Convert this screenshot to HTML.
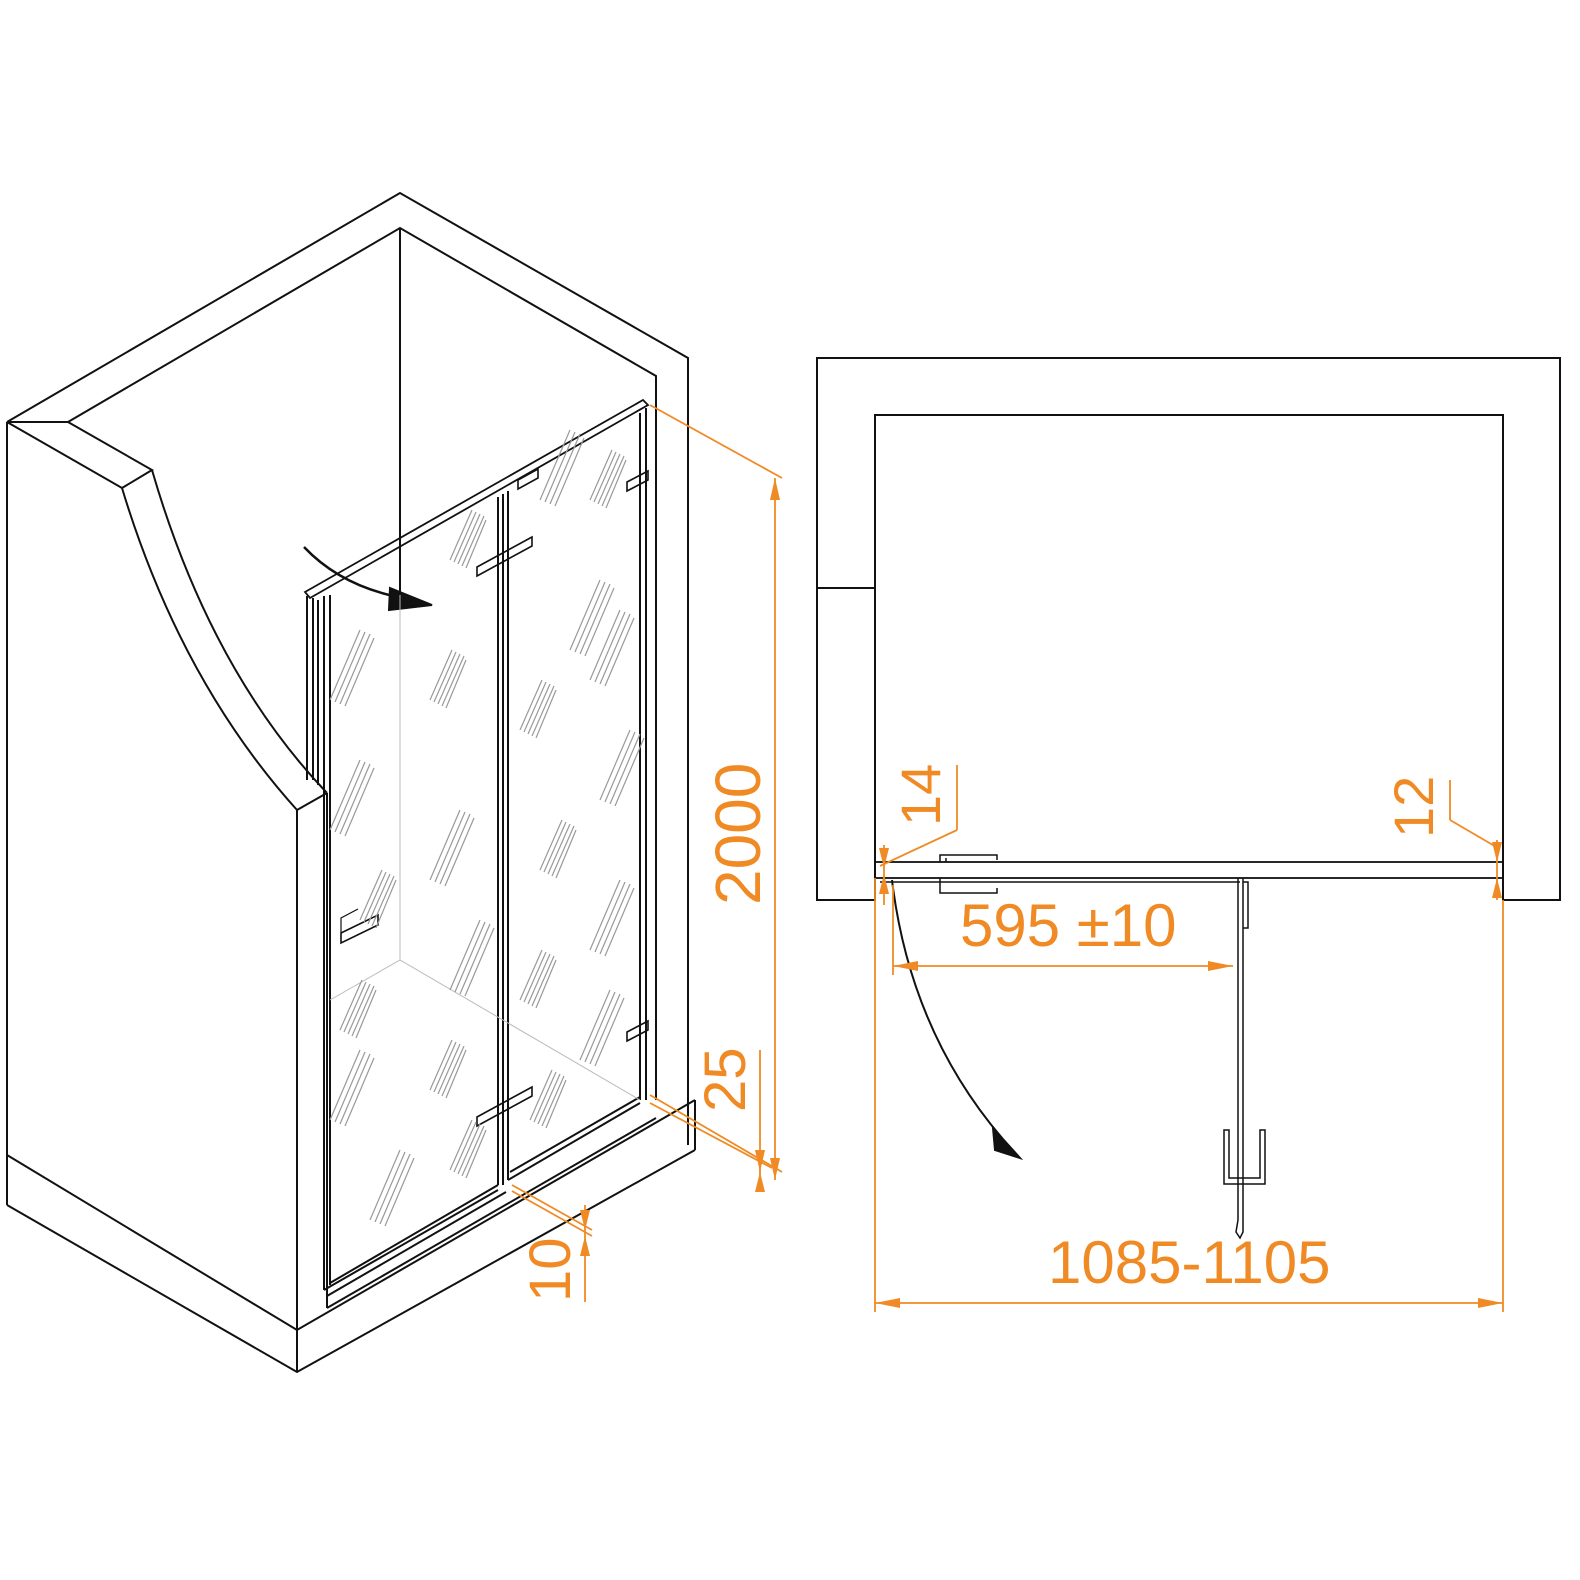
<!DOCTYPE html>
<html><head><style>html,body{margin:0;padding:0;background:#fff}svg{display:block}</style></head><body>
<svg width="1580" height="1580" viewBox="0 0 1580 1580" xmlns="http://www.w3.org/2000/svg">
<defs>
<g id="h" stroke="#999" stroke-width="1.2" fill="none">
<line x1="0" y1="40" x2="22" y2="-10"/><line x1="4" y1="42" x2="26" y2="-8"/><line x1="8" y1="44" x2="30" y2="-6"/><line x1="12" y1="46" x2="34" y2="-4"/><line x1="16" y1="48" x2="36" y2="0"/>
</g>
<g id="h2" stroke="#999" stroke-width="1.2" fill="none">
<line x1="0" y1="60" x2="30" y2="-10"/><line x1="5" y1="62" x2="35" y2="-8"/><line x1="10" y1="64" x2="40" y2="-6"/><line x1="15" y1="66" x2="44" y2="-2"/>
</g>
</defs>
<g fill="none" stroke="#111" stroke-width="2">
<!-- left iso walls -->
<path d="M7,422 L400,193 L688,358 L688,1145"/>
<path d="M68,422 L400,228 L656,376 L656,1100"/>
<line x1="400" y1="228" x2="400" y2="595"/>
<path d="M7,422 L68,422"/>
<path d="M7,422 L122,488 L152,470 L68,422"/>
<path d="M122,488 Q180,680 297,810"/>
<path d="M152,470 Q210,670 327,793"/>
<path d="M297,810 L327,793"/>
<line x1="7" y1="422" x2="7" y2="1205"/>
<line x1="297" y1="810" x2="297" y2="1372"/>
<path d="M7,1155 L297,1330 L695,1100"/>
<path d="M7,1205 L297,1372 L695,1150"/>
<line x1="695" y1="1100" x2="695" y2="1150"/>
<line x1="327" y1="793" x2="327" y2="1308"/>
<path d="M327,1308 L656,1118"/>
<!-- door frame -->
<path d="M305,592 L643,400 L648,405 L310,598 Z" stroke-width="1.8"/>
<line x1="307" y1="596" x2="307" y2="780"/>
<line x1="313" y1="598" x2="313" y2="780"/>
<line x1="318" y1="600" x2="318" y2="785"/>
<line x1="324" y1="596" x2="324" y2="1290"/>
<line x1="330" y1="595" x2="330" y2="1285"/>
<line x1="498" y1="497" x2="498" y2="1185"/>
<line x1="503" y1="494" x2="503" y2="1185"/>
<line x1="508" y1="491" x2="508" y2="1180"/>
<line x1="640" y1="413" x2="640" y2="1100"/>
<line x1="646" y1="408" x2="646" y2="1100"/>
<path d="M324,1290 L498,1190 M330,1283 L498,1185 M327,1296 L506,1192"/>
<path d="M508,1180 L640,1103 M510,1172 L640,1097"/>
<!-- hinges/handles -->
<path d="M477,567 L532,537 L532,546 L477,576 Z" stroke-width="1.6"/>
<path d="M477,1117 L532,1087 L532,1096 L477,1126 Z" stroke-width="1.6"/>
<path d="M518,480 L538,469 L538,478 L518,489 Z" stroke-width="1.6"/>
<path d="M627,482 L648,471 L648,480 L627,491 Z" stroke-width="1.6"/>
<path d="M627,1032 L648,1021 L648,1030 L627,1041 Z" stroke-width="1.6"/>
<path d="M341,933 L378,915 L378,925 L341,943 Z" stroke-width="1.6"/>
<path d="M341,933 L341,918 L358,909" stroke-width="1.2"/>
<!-- swing arrow -->
<path d="M304,547 Q340,585 398,597" stroke-width="2.5"/>
<path d="M390,588 L432,605 L389,610 Z" fill="#111"/>
<!-- plan -->
<path d="M817,358 L1560,358 L1560,900 L1503,900 L1503,415 L875,415 L875,588 L817,588 Z"/>
<path d="M817,588 L817,900 L875,900 L875,588"/>
<rect x="875" y="862" width="628" height="16" stroke-width="1.8"/>
<line x1="880" y1="882" x2="1240" y2="882" stroke-width="1.5"/>
<path d="M940,862 L940,855 L997,855 L997,860 M940,878 L940,893 L997,893 L997,888 M946,862 L946,858" stroke-width="1.5"/>
<line x1="1238" y1="878" x2="1238" y2="1220" stroke-width="1.5"/>
<line x1="1243" y1="878" x2="1243" y2="1220" stroke-width="1.5"/>
<path d="M1243,882 L1248,882 L1248,928 L1243,928" stroke-width="1.5"/>
<path d="M1224,1130 L1224,1184 L1265,1184 L1265,1130 L1260,1130 L1260,1178 L1229,1178 L1229,1130 Z" stroke-width="1.5"/>
<path d="M1238,1220 L1236,1232 L1240,1238 L1243,1232 L1243,1220" stroke-width="1.5"/>
<path d="M892,880 Q910,1030 1002,1138" stroke-width="2"/>
<path d="M993,1128 L1020,1158 L995,1150 Z" fill="#111"/>
</g>
<!-- faint back lines -->
<g stroke="#bbb" stroke-width="1" fill="none">
<line x1="400" y1="595" x2="400" y2="960"/>
<path d="M330,1000 L400,960 L640,1100"/>
</g>
<!-- hatching -->
<use href="#h" x="450" y="520"/><use href="#h2" x="330" y="640"/><use href="#h" x="430" y="660"/><use href="#h2" x="330" y="770"/>
<use href="#h2" x="430" y="820"/><use href="#h" x="360" y="880"/><use href="#h2" x="450" y="930"/><use href="#h2" x="330" y="1060"/>
<use href="#h" x="430" y="1050"/><use href="#h2" x="370" y="1160"/><use href="#h" x="450" y="1130"/><use href="#h" x="340" y="990"/>
<use href="#h2" x="540" y="440"/><use href="#h" x="590" y="460"/><use href="#h2" x="570" y="590"/><use href="#h" x="520" y="690"/>
<use href="#h2" x="600" y="740"/><use href="#h" x="540" y="830"/><use href="#h2" x="590" y="890"/><use href="#h" x="520" y="960"/>
<use href="#h2" x="580" y="1000"/><use href="#h" x="530" y="1080"/><use href="#h2" x="590" y="620"/>
<!-- orange dims -->
<g stroke="#f08a24" stroke-width="1.8" fill="none">
<line x1="650" y1="405" x2="782" y2="478"/>
<line x1="650" y1="1095" x2="782" y2="1172"/>
<line x1="775" y1="478" x2="775" y2="1180"/>
<line x1="650" y1="1103" x2="772" y2="1168"/>
<line x1="760" y1="1050" x2="760" y2="1190"/>
<line x1="512" y1="1185" x2="592" y2="1230"/>
<line x1="512" y1="1191" x2="592" y2="1236"/>
<line x1="585" y1="1205" x2="585" y2="1302"/>
<line x1="880" y1="866" x2="957" y2="830"/><line x1="957" y1="830" x2="957" y2="765"/>
<line x1="1450" y1="780" x2="1450" y2="820"/><line x1="1450" y1="820" x2="1498" y2="848"/>
<line x1="893" y1="885" x2="893" y2="975"/>
<line x1="893" y1="966" x2="1233" y2="966"/>
<line x1="875" y1="878" x2="875" y2="1312"/>
<line x1="1503" y1="900" x2="1503" y2="1312"/>
<line x1="875" y1="1303" x2="1503" y2="1303"/>
<line x1="884" y1="845" x2="884" y2="905"/>
<line x1="1497" y1="840" x2="1497" y2="900"/>
</g>
<g fill="#f08a24">
<path d="M775,478 L770,500 L780,500 Z"/><path d="M775,1180 L770,1158 L780,1158 Z"/>
<path d="M760,1172 L755,1150 L765,1150 Z"/><path d="M760,1172 L755,1192 L765,1192 Z"/>
<path d="M585,1230 L580,1210 L590,1210 Z"/><path d="M585,1236 L580,1256 L590,1256 Z"/>
<path d="M893,966 L918,961 L918,971 Z"/><path d="M1233,966 L1208,961 L1208,971 Z"/>
<path d="M875,1303 L900,1298 L900,1308 Z"/><path d="M1503,1303 L1478,1298 L1478,1308 Z"/>
<path d="M884,868 L879,848 L889,848 Z"/><path d="M884,874 L879,894 L889,894 Z"/>
<path d="M1497,862 L1492,842 L1502,842 Z"/><path d="M1497,878 L1492,898 L1502,898 Z"/>
</g>
<g fill="#f08a24" font-family="Liberation Sans, sans-serif">
<text x="960" y="946" font-size="60">595 ±10</text>
<text x="1048" y="1283" font-size="60">1085-1105</text>
<text transform="translate(760,905) rotate(-90)" font-size="64">2000</text>
<text transform="translate(745,1112) rotate(-90)" font-size="58">25</text>
<text transform="translate(570,1302) rotate(-90)" font-size="58">10</text>
<text transform="translate(940,826) rotate(-90)" font-size="56">14</text>
<text transform="translate(1433,838) rotate(-90)" font-size="56">12</text>
</g>
</svg>
</body></html>
